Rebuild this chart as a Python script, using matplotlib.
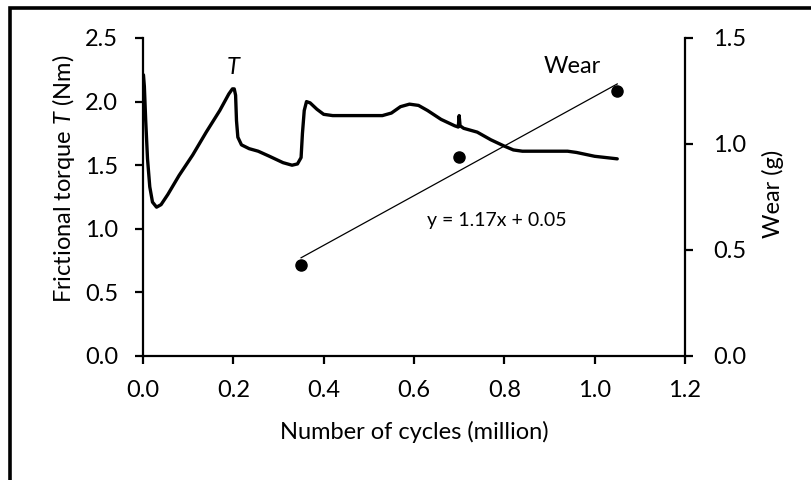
import matplotlib
matplotlib.use("Agg")
import matplotlib.pyplot as plt
from matplotlib.patches import Rectangle
import numpy as np

# Frictional torque curve (million cycles, Nm)
torque_x = [0.001, 0.003, 0.006, 0.010, 0.015, 0.021, 0.030, 0.040, 0.055, 0.080,
            0.110, 0.140, 0.170, 0.190, 0.198, 0.202, 0.205, 0.207, 0.210, 0.218,
            0.235, 0.255, 0.280, 0.310, 0.330, 0.342, 0.350, 0.353, 0.357, 0.362,
            0.370, 0.385, 0.400, 0.420, 0.480, 0.530, 0.550, 0.570, 0.590, 0.610,
            0.630, 0.660, 0.690, 0.698, 0.700, 0.702, 0.710, 0.740, 0.770, 0.800,
            0.820, 0.840, 0.900, 0.940, 0.960, 1.000, 1.050]
torque_y = [2.21, 2.12, 1.85, 1.55, 1.33, 1.21, 1.17, 1.19, 1.27, 1.42,
            1.58, 1.76, 1.93, 2.06, 2.10, 2.10, 2.05, 1.85, 1.72, 1.66,
            1.63, 1.61, 1.57, 1.52, 1.50, 1.51, 1.56, 1.75, 1.93, 2.00,
            1.99, 1.94, 1.90, 1.89, 1.89, 1.89, 1.91, 1.96, 1.98, 1.97,
            1.93, 1.86, 1.81, 1.80, 1.89, 1.81, 1.79, 1.76, 1.70, 1.65,
            1.62, 1.61, 1.61, 1.61, 1.60, 1.57, 1.55]

# Wear measurements (million cycles, g)
wear_x = [0.35, 0.70, 1.05]
wear_y = [0.43, 0.94, 1.25]

x_ticks = [0.0, 0.2, 0.4, 0.6, 0.8, 1.0, 1.2]
t_ticks = [0.0, 0.5, 1.0, 1.5, 2.0, 2.5]
w_ticks = [0.0, 0.5, 1.0, 1.5]

plt.rcParams['font.family'] = ['Lato', 'DejaVu Sans']
plt.rcParams['mathtext.fontset'] = 'custom'
plt.rcParams['mathtext.it'] = 'Lato:italic'
plt.rcParams['mathtext.rm'] = 'Lato'
FS = 17

fig = plt.figure(figsize=(8.12, 4.8), dpi=100)
ax = fig.add_axes([143/812, 1 - 356/480, (685-143)/812, (356-38)/480])
ax2 = ax.twinx()

ax.plot(torque_x, torque_y, color='black', lw=2.4, solid_capstyle='round', solid_joinstyle='round')
ax.set_xlim(0, 1.2)
ax.set_ylim(0, 2.5)
ax.set_xticks(x_ticks)
ax.set_xticklabels([f"{v:.1f}" for v in x_ticks])
ax.set_yticks(t_ticks)
ax.set_yticklabels([f"{v:.1f}" for v in t_ticks])

ax2.set_ylim(0, 1.5)
ax2.set_yticks(w_ticks)
ax2.set_yticklabels([f"{v:.1f}" for v in w_ticks])
ax2.plot(wear_x, wear_y, 'o', color='black', ms=8)
slope, intercept = np.polyfit(wear_x, wear_y, 1)
fx = np.array([wear_x[0], wear_x[-1]])
ax2.plot(fx, slope * fx + intercept, color='black', lw=0.9)

for a in (ax, ax2):
    a.spines['top'].set_visible(False)
    for s in a.spines.values():
        s.set_linewidth(1.6)
    a.tick_params(direction='out', length=6, width=1.6, labelsize=FS)
ax.tick_params(axis='y', pad=12)
ax.tick_params(axis='x', pad=11)
ax2.tick_params(axis='y', pad=14)
ax.spines['right'].set_visible(False)
ax2.spines['left'].set_visible(False)
ax2.spines['bottom'].set_visible(False)

ax.set_xlabel('Number of cycles (million)', fontsize=FS)
ax.xaxis.set_label_coords((414-143)/(685-143), -(421-356)/(356-38))
ax.set_ylabel('Frictional torque $\\mathit{T}$ (Nm)', fontsize=FS)
ax.yaxis.set_label_coords(-(143-77)/(685-143), (356-179)/(356-38))
ax2.set_ylabel('Wear (g)', fontsize=FS)
ax2.yaxis.set_label_coords((762-143)/(685-143), (356-194)/(356-38))

ax.text(0.2, 2.27, 'T', fontsize=FS, style='italic', ha='center', va='center')
ax2.text(0.95, 1.365, 'Wear', fontsize=FS, ha='center', va='center')
ax2.text(0.783, 0.64, f'y = {slope:.2f}x + {intercept:.2f}', fontsize=14, ha='center', va='center')

fig.patches.append(Rectangle((10/812, -0.05), 1.1, 1 - 7.5/480 + 0.05, transform=fig.transFigure,
                             fill=False, edgecolor='black', lw=2.6))

fig.savefig('out.png', dpi=100)
